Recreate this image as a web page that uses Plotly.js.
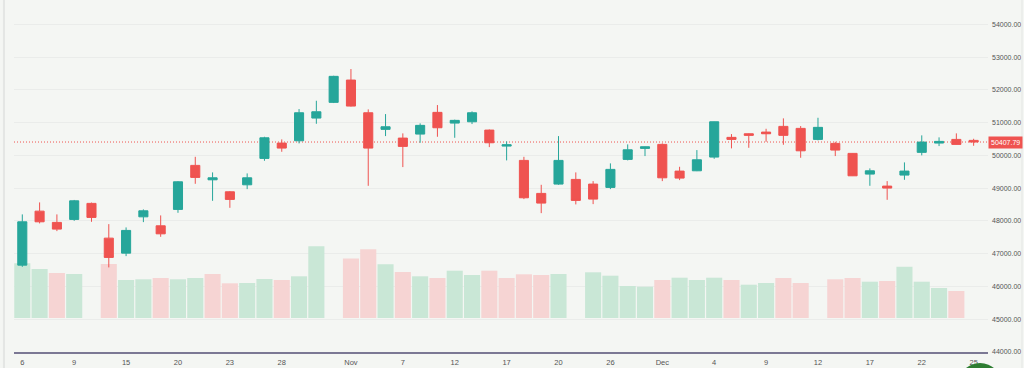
<!DOCTYPE html>
<html>
<head>
<meta charset="utf-8">
<script src="https://cdn.plot.ly/plotly-3.0.1.min.js"></script>
<style>
html,body{margin:0;padding:0;background:#f4f6f3;}
#chart{width:1024px;height:368px;}
</style>
</head>
<body>
<div id="chart"></div>
<script>
// ---- data ----
var openP  = [46651,48299,47955,48046,48535,47475,47017,48125,47851,48351,49695,49255,48889,49102,49908,50376,50446,51139,51618,52299,
              51301,50794,50528,50650,51313,50986,51026,50772,50284,49847,48840,49124,49267,49124,49023,49878,50214,50336,49521,49530,
              49948,50550,50660,50711,50885,50824,50488,50366,50061,49429,49063,49399,50092,50376,50488,50458];
var highP  = [48199,48565,48199,48640,48560,47902,47802,48351,48168,49215,49957,49481,48910,49450,50568,50488,51414,51667,52430,52635,
              51404,51261,50672,50977,51536,51090,51343,50790,50427,49957,49102,50589,49481,49215,49756,50336,50270,50366,49652,50162,
              51030,50650,50670,50812,51130,50895,51148,50415,50070,49603,49215,49786,50611,50550,50672,50507];
var lowP   = [46599,47924,47689,48003,47973,46581,46926,47964,47515,48248,49133,48614,48400,48971,49835,50110,50366,50965,51597,51490,
              49072,50589,49643,50385,50568,50537,50956,50253,49847,48666,48238,49102,48504,48513,48971,49847,49979,49215,49246,49520,
              49896,50214,50232,50415,50324,49927,50458,49979,49370,49072,48644,49255,50000,50284,50330,50293];
var closeP = [47973,47973,47750,48614,48107,46886,47710,48309,47606,49194,49328,49316,48657,49316,50537,50223,51301,51331,52412,51505,
              50223,50873,50275,50916,50843,51069,51301,50385,50324,48706,48544,49847,48626,48666,49573,50171,50263,49316,49307,49866,
              51026,50488,50611,50660,50611,50140,50855,50162,49377,49530,49002,49521,50406,50427,50336,50407.79];
var volume = [547,490,450,440,0,540,380,387,400,387,400,440,347,350,390,380,417,717,0,595,
              687,537,460,417,400,473,430,473,400,437,430,440,0,457,423,320,313,380,403,380,
              403,380,333,350,400,350,0,387,400,363,370,513,363,300,270,0];
var volDir = [1,1,-1,1,1,-1,1,1,-1,1,1,-1,-1,1,1,-1,1,1,1,-1,
              -1,1,-1,1,-1,1,1,-1,-1,-1,-1,1,1,1,1,1,1,-1,1,1,
              1,-1,1,1,-1,-1,1,-1,-1,1,-1,1,1,1,-1,1];
var tickIdx  = [0,3,6,9,12,15,19,22,25,28,31,34,37,40,43,46,49,52,55];
var tickText = ['6','9','15','20','23','28','Nov','7','12','17','20','26','Dec','4','9','12','17','22','25'];

// ---- build ----
var idx = openP.map(function(_, i){ return i; });
var UP = '#26a69a', DOWN = '#ef5350';
var volColors = volDir.map(function(d){ return d > 0 ? '#c9e7d6' : '#f6d4d3'; });
var lastClose = closeP[closeP.length - 1];

var volTrace = {
  type: 'bar', x: idx, y: volume, yaxis: 'y', xaxis: 'x',
  marker: {color: volColors, line: {width: 0}},
  hoverinfo: 'skip', showlegend: false
};
var candleTrace = {
  type: 'candlestick', x: idx, open: openP, high: highP, low: lowP, close: closeP,
  xaxis: 'x', yaxis: 'y2',
  increasing: {line: {color: UP, width: 1}, fillcolor: UP},
  decreasing: {line: {color: DOWN, width: 1}, fillcolor: DOWN},
  whiskerwidth: 0, hoverinfo: 'skip', showlegend: false
};

var FONT = 'Liberation Sans, Arial, sans-serif';
var layout = {
  width: 1024, height: 368,
  margin: {l: 14, r: 36, t: 0, b: 16, pad: 0},
  paper_bgcolor: '#f4f6f3', plot_bgcolor: '#f4f6f3',
  showlegend: false,
  bargap: 0.07, boxgap: 0.25,
  font: {family: FONT, size: 7, color: '#555'},
  xaxis: {
    type: 'linear', range: [-0.48, 55.83], fixedrange: true,
    rangeslider: {visible: false},
    showgrid: false, zeroline: false,
    showline: true, linecolor: '#7b7894', linewidth: 1.5,
    tickmode: 'array', tickvals: tickIdx, ticktext: tickText,
    ticks: '', ticklabelstandoff: 2,
    tickfont: {family: FONT, size: 7.5, color: '#555'}
  },
  yaxis: {
    range: [-340, 3180], visible: false, fixedrange: true,
    showgrid: false, zeroline: false
  },
  yaxis2: {
    overlaying: 'y', side: 'right', anchor: 'x',
    range: [44000, 54742], fixedrange: true,
    tickmode: 'linear', tick0: 44000, dtick: 1000, tickformat: '.2f',
    showgrid: true, gridcolor: '#eaecea', gridwidth: 1, zeroline: false,
    showline: false, ticks: '', ticklabelstandoff: 3,
    tickfont: {family: FONT, size: 7, color: '#555'}
  },
  shapes: [
    {type: 'line', xref: 'paper', x0: 0, x1: 1, yref: 'y2', y0: lastClose, y1: lastClose,
     line: {color: DOWN, width: 1, dash: '1px,2px'}, layer: 'below'},
    {type: 'line', xref: 'paper', x0: -0.0103, x1: -0.0103, yref: 'paper', y0: -0.05, y1: 1.0,
     line: {color: '#e4e6e4', width: 2}},
    {type: 'line', xref: 'paper', x0: 1.0349, x1: 1.0349, yref: 'paper', y0: -0.05, y1: 1.0,
     line: {color: '#e4e6e4', width: 1}},
    {type: 'circle', xref: 'paper', yref: 'paper',
     x0: (958 - 14) / 974, x1: (1002 - 14) / 974, y0: (352 - 407) / 352, y1: (352 - 363) / 352,
     fillcolor: '#2e7d32', line: {width: 0}}
  ],
  annotations: [
    {xref: 'paper', x: 1, xanchor: 'left', yref: 'y2', y: lastClose, yanchor: 'middle',
     text: lastClose.toFixed(2), showarrow: false,
     bgcolor: DOWN, borderpad: 2, xshift: 0,
     font: {family: FONT, size: 7, color: '#ffffff'}}
  ]
};

Plotly.newPlot('chart', [volTrace, candleTrace], layout, {staticPlot: true, displayModeBar: false});
</script>
</body>
</html>
